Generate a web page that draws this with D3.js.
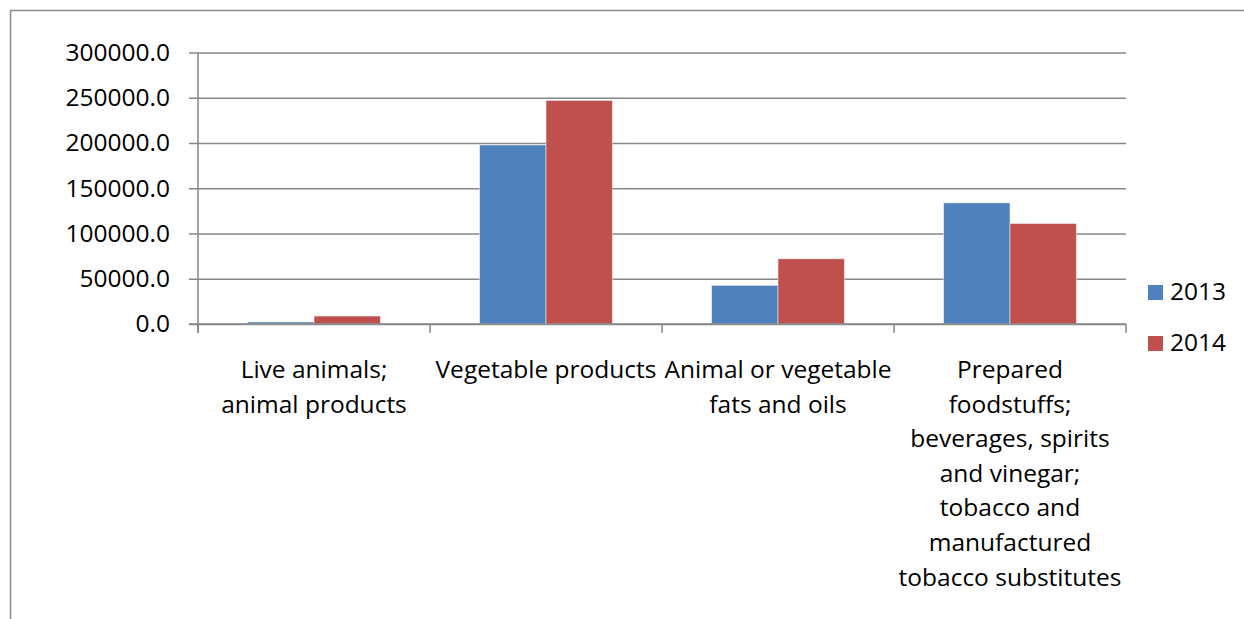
<!doctype html>
<html lang="en">
<head>
  <meta charset="UTF-8">
  <title>Food products 2013-2014</title>
  <script src="https://d3js.org/d3.v7.min.js"></script>
  <style>
    body { margin: 0; background: #fff; }
    text { font-family: "Open Sans", Lato, sans-serif; fill: #000; }
  </style>
</head>
<body>
  <div id="myDiv"></div>
  <script type="text/javascript">
    // categories (line breaks as in the original labels)
    var categories = [
      "Live animals;\nanimal products",
      "Vegetable products",
      "Animal or vegetable\nfats and oils",
      "Prepared\nfoodstuffs;\nbeverages, spirits\nand vinegar;\ntobacco and\nmanufactured\ntobacco substitutes"
    ];
    var years = ["2013", "2014"];
    var values2013 = [2200, 197800, 42700, 133800];
    var values2014 = [8800, 247000, 72000, 111000];
    var yTicks = [0, 50000, 100000, 150000, 200000, 250000, 300000];
    var colors = ["#4F81BD", "#C0504D"];

    var W = 1244, H = 619;
    var mLeft = 198, mRight = 1126, mTop = 52.5, mBottom = 324;
    var FONT = "'Open Sans', Lato, sans-serif";

    var svg = d3.select("#myDiv").append("svg")
      .attr("width", W)
      .attr("height", H);

    // outer chart border (only top and left visible)
    svg.append("path")
      .attr("d", "M10.5," + H + "V10.5H" + W)
      .attr("fill", "none")
      .attr("stroke", "#8c8c8c")
      .attr("stroke-width", 1.5);

    var x = d3.scaleBand()
      .domain(d3.range(categories.length))
      .range([mLeft, mRight]);
    var x1 = d3.scaleBand()
      .domain(years)
      .range([0, x.bandwidth()])
      .paddingOuter(0.75)
      .paddingInner(0);
    var y = d3.scaleLinear()
      .domain([0, 300000])
      .range([mBottom, mTop]);

    // gridlines + y axis
    var yAxis = d3.axisLeft(y)
      .tickValues(yTicks)
      .tickSize(9)
      .tickPadding(19)
      .tickFormat(d3.format(".1f"));
    var gy = svg.append("g")
      .attr("transform", "translate(" + mLeft + ",0)")
      .call(yAxis);
    gy.select(".domain").remove();
    gy.selectAll(".tick line")
      .attr("stroke", "#868686")
      .attr("stroke-width", 1.5);
    gy.selectAll(".tick text")
      .attr("font-size", 24.5)
      .attr("font-family", FONT)
      .attr("fill", "#000");
    gy.selectAll(".tick").append("line")
      .attr("x1", 0)
      .attr("x2", mRight - mLeft)
      .attr("stroke", "#868686")
      .attr("stroke-width", 1.5);

    // bars
    var series = [values2013, values2014];
    series.forEach(function(vals, s) {
      svg.append("g").selectAll("rect")
        .data(vals)
        .enter()
        .append("rect")
          .attr("x", function(d, i) { return x(i) + x1(years[s]); })
          .attr("y", function(d) { return y(d); })
          .attr("width", x1.bandwidth())
          .attr("height", function(d) { return mBottom - y(d); })
          .attr("fill", colors[s])
          .attr("stroke", "#e8e8e8")
          .attr("stroke-width", 0.6);
    });

    // y axis line and category ticks
    svg.append("line")
      .attr("x1", mLeft).attr("x2", mLeft)
      .attr("y1", mTop).attr("y2", mBottom + 9)
      .attr("stroke", "#868686").attr("stroke-width", 1.5);
    svg.append("line")
      .attr("x1", mLeft - 9).attr("x2", mRight)
      .attr("y1", mBottom).attr("y2", mBottom)
      .attr("stroke", "#868686").attr("stroke-width", 1.5);
    svg.append("g").selectAll("line")
      .data(d3.range(categories.length + 1))
      .enter()
      .append("line")
        .attr("x1", function(i) { return mLeft + i * x.step(); })
        .attr("x2", function(i) { return mLeft + i * x.step(); })
        .attr("y1", mBottom).attr("y2", mBottom + 9)
        .attr("stroke", "#868686").attr("stroke-width", 1.5);

    // category labels
    var labels = svg.append("g").selectAll("text")
      .data(categories)
      .enter()
      .append("text")
        .attr("text-anchor", "middle")
        .attr("font-size", 24.5)
        .attr("transform", function(d, i) {
          return "translate(" + (x(i) + x.bandwidth() / 2) + ",378)";
        });
    labels.selectAll("tspan")
      .data(function(d) { return d.split("\n"); })
      .enter()
      .append("tspan")
        .attr("x", 0)
        .attr("y", function(d, j) { return j * 34.6; })
        .text(function(d) { return d; });

    // legend
    var legend = svg.append("g").selectAll("g")
      .data(years)
      .enter()
      .append("g")
        .attr("transform", function(d, i) { return "translate(1148," + (285 + i * 51) + ")"; });
    legend.append("rect")
      .attr("width", 15).attr("height", 15)
      .attr("fill", function(d, i) { return colors[i]; });
    legend.append("text")
      .attr("x", 22).attr("y", 15)
      .attr("font-size", 24.5)
      .text(function(d) { return d; });
  </script>
</body>
</html>
